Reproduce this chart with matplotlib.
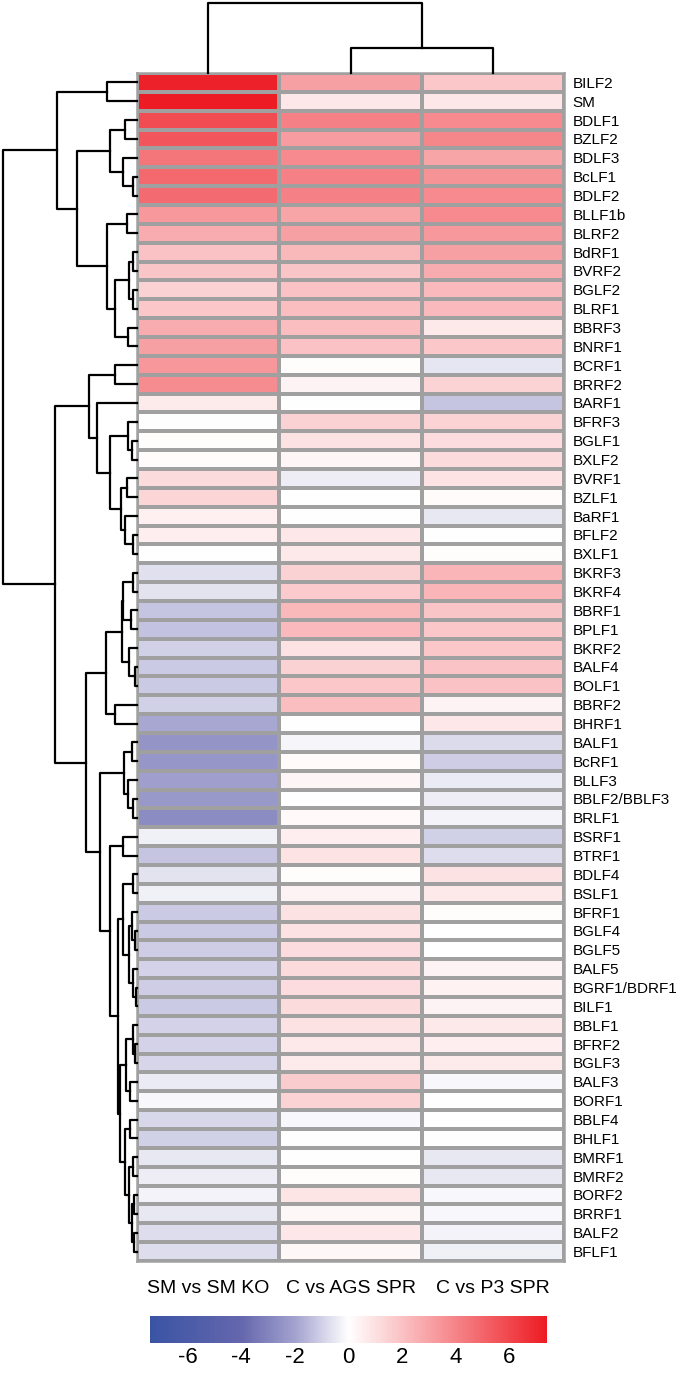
import numpy as np
import matplotlib
matplotlib.use("Agg")
import matplotlib.pyplot as plt
from matplotlib.colors import LinearSegmentedColormap

plt.rcParams["font.family"] = ["Liberation Sans", "DejaVu Sans"]
plt.rcParams["axes.unicode_minus"] = False

########################################
# data
########################################
genes = ["BILF2", "SM", "BDLF1", "BZLF2", "BDLF3", "BcLF1", "BDLF2", "BLLF1b", "BLRF2", "BdRF1",
         "BVRF2", "BGLF2", "BLRF1", "BBRF3", "BNRF1", "BCRF1", "BRRF2", "BARF1", "BFRF3", "BGLF1",
         "BXLF2", "BVRF1", "BZLF1", "BaRF1", "BFLF2", "BXLF1", "BKRF3", "BKRF4", "BBRF1", "BPLF1",
         "BKRF2", "BALF4", "BOLF1", "BBRF2", "BHRF1", "BALF1", "BcRF1", "BLLF3", "BBLF2/BBLF3", "BRLF1",
         "BSRF1", "BTRF1", "BDLF4", "BSLF1", "BFRF1", "BGLF4", "BGLF5", "BALF5", "BGRF1/BDRF1", "BILF1",
         "BBLF1", "BFRF2", "BGLF3", "BALF3", "BORF1", "BBLF4", "BHLF1", "BMRF1", "BMRF2", "BORF2",
         "BRRF1", "BALF2", "BFLF1"]
columns = ["SM vs SM KO", "C vs AGS SPR", "C vs P3 SPR"]

sm_vs_ko = [7.2, 7.4, 5.8, 5.5, 4.5, 4.9, 4.8, 3.3, 2.7, 2.0,
            1.9, 1.5, 1.8, 2.7, 3.1, 3.4, 3.7, 0.65, 0.05, 0.1,
            0.15, 1.2, 1.35, 0.5, 0.55, 0.0, -0.67, -0.63, -1.26, -1.3,
            -1.04, -1.13, -1.1, -1.04, -1.87, -2.45, -2.4, -2.13, -2.32, -2.77,
            -0.3, -1.26, -0.63, -0.33, -1.1, -1.1, -1.06, -0.93, -1.07, -1.1,
            -0.93, -0.93, -0.89, -0.43, -0.17, -0.85, -1.0, -0.5, -0.37, -0.28,
            -0.48, -0.72, -0.72]
c_vs_ags = [3.1, 0.8, 4.1, 3.2, 3.8, 4.1, 4.1, 2.9, 3.1, 2.3,
            1.9, 2.0, 2.1, 2.1, 2.0, 0.1, 0.4, -0.05, 1.5, 0.95,
            0.3, -0.35, 0.05, 0.0, 0.8, 0.7, 1.45, 1.7, 2.3, 2.2,
            0.95, 1.45, 1.8, 2.1, 0.05, -0.2, 0.15, 0.3, 0.05, 0.2,
            0.55, 0.9, 0.1, 0.35, 0.95, 0.95, 1.1, 1.2, 1.15, 1.2,
            0.95, 0.75, 0.65, 1.65, 1.4, -0.15, 0.0, 0.0, 0.1, 0.85,
            0.25, 0.8, 0.25]
c_vs_p3 = [1.8, 0.8, 3.8, 3.9, 2.9, 3.5, 3.8, 3.8, 3.3, 3.1,
           2.7, 2.2, 2.2, 0.75, 1.8, -0.57, 1.4, -1.22, 1.4, 1.1,
           1.2, 0.9, 0.15, -0.52, 0.05, 0.1, 2.4, 2.4, 1.9, 1.8,
           1.8, 1.95, 2.0, 0.4, 0.8, -0.76, -1.09, -0.43, -0.35, -0.26,
           -1.04, -0.72, 0.95, 0.7, 0.1, 0.0, 0.0, 0.35, 0.45, 0.4,
           0.75, 0.55, 0.65, -0.17, -0.05, 0.0, 0.0, -0.5, -0.48, -0.15,
           -0.17, -0.26, -0.3]

# row clustering: (child a, child b, height); ids >= 63 refer to earlier merges
row_tree = [(0, 1, 30), (2, 3, 12), (5, 6, 4), (4, 65, 14), (64, 66, 27),
            (7, 8, 10), (9, 10, 4), (11, 12, 4), (69, 70, 8), (13, 14, 9),
            (71, 72, 22), (68, 73, 30), (67, 74, 60), (63, 75, 80), (15, 16, 22),
            (19, 20, 5), (18, 78, 9), (21, 22, 10), (24, 25, 4), (23, 81, 12),
            (80, 82, 16), (79, 83, 27), (17, 84, 40), (77, 85, 48), (26, 27, 4),
            (28, 29, 6), (87, 88, 14), (31, 32, 2), (30, 90, 8), (89, 91, 15),
            (33, 34, 22), (92, 93, 31), (35, 36, 5), (38, 39, 4), (37, 96, 9),
            (95, 97, 13), (40, 41, 14), (42, 43, 4), (45, 46, 2), (44, 101, 5),
            (48, 49, 1), (47, 103, 4), (102, 104, 8), (100, 105, 14), (51, 52, 2),
            (50, 107, 4), (53, 54, 7), (108, 109, 11), (55, 56, 7), (57, 58, 4),
            (59, 60, 3), (61, 62, 3), (113, 114, 5), (112, 115, 8), (111, 116, 12),
            (110, 117, 17), (106, 118, 19), (99, 119, 27), (98, 120, 37), (94, 121, 51),
            (86, 122, 82), (76, 123, 134.3)]
# column clustering
col_tree = [(1, 2, 25), (0, 3, 70.3)]

########################################
# layout (pixels of a 677 x 1378 figure)
########################################
W, H = 677., 1378.
hm_l, hm_r, hm_t, hm_b = 137., 564., 73., 1261.

def rect(l, t, r, b):
    return [l / W, 1 - b / H, (r - l) / W, (b - t) / H]

cmap = LinearSegmentedColormap.from_list("bwr_custom", [
    (0.0, "#3a54a4"), (0.23, "#6567ad"), (0.365, "#a3a2cf"),
    (0.5, "#ffffff"), (1.0, "#ed1c24")])
vmin, vmax = -7.4, 7.4

fig = plt.figure(figsize=(W / 100, H / 100), dpi=100)

# heatmap
ax = fig.add_axes(rect(hm_l, hm_t, hm_r, hm_b))
vals = np.column_stack([sm_vs_ko, c_vs_ags, c_vs_p3])
mesh = ax.pcolormesh(vals, cmap=cmap, vmin=vmin, vmax=vmax,
                     edgecolors="#a0a0a0", linewidth=1.5)
ax.set_xlim(0, 3)
ax.set_ylim(len(genes), 0)
ax.yaxis.tick_right()
ax.set_yticks(np.arange(len(genes)) + 0.5)
ax.set_yticklabels(genes, fontsize=11)
ax.set_xticks(np.arange(3) + 0.5)
ax.set_xticklabels(columns, fontsize=14)
ax.tick_params(axis="y", length=0, pad=6)
ax.tick_params(axis="x", length=0, pad=14)
for s in ax.spines.values():
    s.set_color("#a0a0a0")
    s.set_linewidth(1.8)


def draw_tree(ax, tree, n, vertical):
    pos = {i: i + 0.5 for i in range(n)}
    hgt = {i: 0.0 for i in range(n)}
    for k, (a, b, h) in enumerate(tree):
        hs = [hgt[a], h, h, hgt[b]]
        ps = [pos[a], pos[a], pos[b], pos[b]]
        if vertical:
            ax.plot(ps, hs, color="black", lw=1.6, clip_on=False, solid_capstyle="projecting")
        else:
            ax.plot(hs, ps, color="black", lw=1.6, clip_on=False, solid_capstyle="projecting")
        pos[n + k] = (pos[a] + pos[b]) / 2
        hgt[n + k] = h


# row dendrogram
axr = fig.add_axes(rect(0, hm_t, hm_l, hm_b))
draw_tree(axr, row_tree, len(genes), False)
axr.set_xlim(hm_l, 0)
axr.set_ylim(len(genes), 0)
axr.axis("off")

# column dendrogram
axc = fig.add_axes(rect(hm_l, 0, hm_r, hm_t))
draw_tree(axc, col_tree, 3, True)
axc.set_xlim(0, 3)
axc.set_ylim(0, hm_t)
axc.axis("off")

# colorbar
cax = fig.add_axes(rect(150, 1316, 547, 1343))
cb = fig.colorbar(mesh, cax=cax, orientation="horizontal", ticks=[-6, -4, -2, 0, 2, 4, 6])
cb.outline.set_visible(False)
cax.tick_params(length=0, labelsize=16, pad=3)

fig.savefig("out.png", dpi=100)
